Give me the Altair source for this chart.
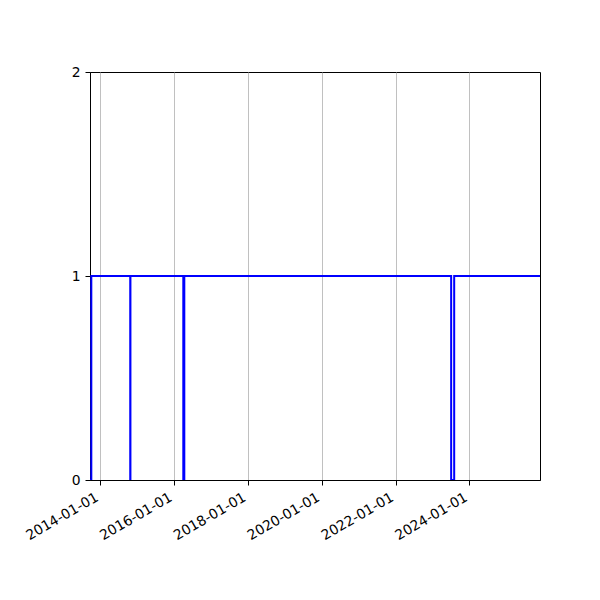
import altair as alt
import pandas as pd

dates = ["2013-09-21", "2013-10-04", "2014-10-24", "2014-10-26",
         "2016-04-01", "2016-04-11", "2023-07-04", "2023-08-03", "2025-11-29"]
values = [0, 1, 0, 1, 0, 1, 0, 1, 1]
tick_years = [2014, 2016, 2018, 2020, 2022, 2024]
y_ticks = [0, 1, 2]

df = pd.DataFrame({"date": dates, "value": values})

x_axis = alt.Axis(
    values=[alt.DateTime(year=y, month=1, date=1, utc=True) for y in tick_years],
    format="%Y-%m-%d",
    labelAngle=330,
    labelAlign="right",
    labelBaseline="top",
    labelOffset=-7,
    grid=True,
    gridColor="#b0b0b0",
    gridWidth=0.8,
    title=None,
    labelPadding=5,
    labelOverlap=False,
)
y_axis = alt.Axis(values=y_ticks, grid=False, title=None, labelPadding=5,
                  labelOverlap=False, labelExpr="'' + round(datum.value)")

chart = alt.Chart(df).mark_line(
    interpolate="step-after", color="#0000ff", strokeWidth=2, clip=True
).encode(
    x=alt.X("date:T", axis=x_axis,
            scale=alt.Scale(type="utc", domain=[alt.DateTime(year=2013, month=9, date=21, utc=True),
                                               alt.DateTime(year=2025, month=11, date=29, utc=True)])),
    y=alt.Y("value:Q", axis=y_axis, scale=alt.Scale(domain=[0, 2], nice=False)),
).properties(
    width=450,
    height=408,
    autosize=alt.AutoSizeParams(type="none"),
    padding={"left": 82, "top": 64, "right": 52, "bottom": 112},
).configure_view(
    stroke="black", strokeWidth=1
).configure_axis(
    domainColor="black",
    tickColor="black",
    tickSize=5,
    labelFont="DejaVu Sans",
    labelFontSize=13.9,
    labelColor="black",
)

chart.save("out.html", embed_options={"renderer": "svg", "actions": False})
